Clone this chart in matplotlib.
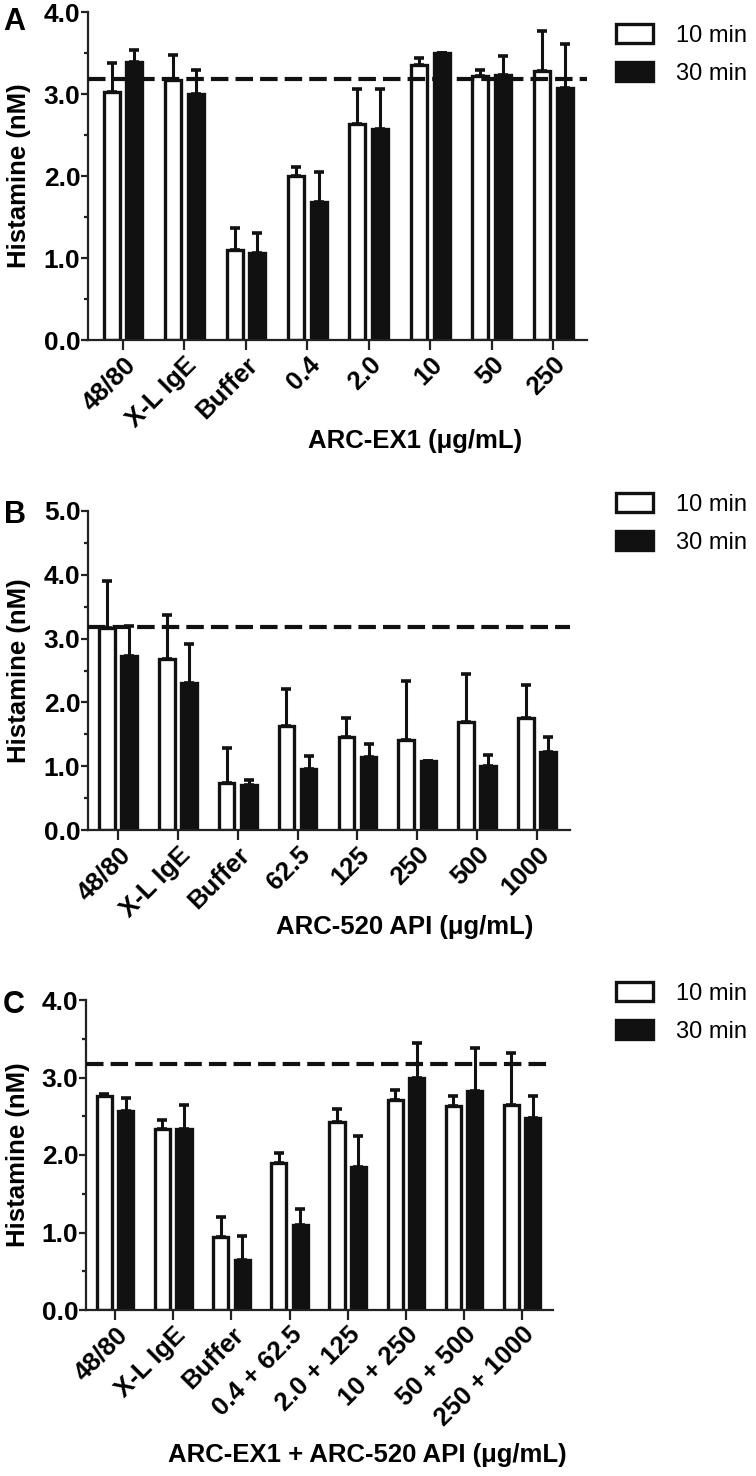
import numpy as np
import matplotlib
matplotlib.use("Agg")
import matplotlib.pyplot as plt
from matplotlib.ticker import MultipleLocator, FormatStrFormatter
from matplotlib.patches import Patch

plt.rcParams['font.family'] = ['Liberation Sans', 'DejaVu Sans']

# ------------------------------------------------------------------
# data (histamine, nM) -- mean and upper SEM, 10 min / 30 min
# ------------------------------------------------------------------
labels_a = ['48/80', 'X-L IgE', 'Buffer', '0.4', '2.0', '10', '50', '250']
a_10 = [3.03, 3.17, 1.10, 2.00, 2.64, 3.35, 3.22, 3.28]
a_10_err = [0.35, 0.31, 0.27, 0.11, 0.42, 0.09, 0.07, 0.49]
a_30 = [3.39, 3.00, 1.06, 1.68, 2.57, 3.50, 3.23, 3.07]
a_30_err = [0.15, 0.29, 0.25, 0.37, 0.49, 0.0, 0.23, 0.54]

labels_b = ['48/80', 'X-L IgE', 'Buffer', '62.5', '125', '250', '500', '1000']
b_10 = [3.16, 2.68, 0.74, 1.63, 1.45, 1.41, 1.70, 1.75]
b_10_err = [0.74, 0.69, 0.54, 0.58, 0.31, 0.92, 0.74, 0.52]
b_30 = [2.73, 2.30, 0.70, 0.96, 1.14, 1.08, 1.01, 1.23]
b_30_err = [0.47, 0.61, 0.08, 0.20, 0.21, 0.0, 0.17, 0.22]

labels_c = ['48/80', 'X-L IgE', 'Buffer', '0.4 + 62.5', '2.0 + 125',
            '10 + 250', '50 + 500', '250 + 1000']
c_10 = [2.76, 2.34, 0.94, 1.90, 2.42, 2.71, 2.63, 2.64]
c_10_err = [0.03, 0.11, 0.26, 0.12, 0.18, 0.13, 0.13, 0.68]
c_30 = [2.57, 2.33, 0.64, 1.10, 1.84, 3.00, 2.82, 2.48]
c_30_err = [0.16, 0.32, 0.32, 0.20, 0.41, 0.45, 0.56, 0.28]

reference_level = 3.18

# ------------------------------------------------------------------
# figure
# ------------------------------------------------------------------
W, H = 756, 1476
fig = plt.figure(figsize=(W / 100, H / 100), dpi=100)


def px_axes(left, top, right, bottom):
    return fig.add_axes([left / W, 1 - bottom / H, (right - left) / W, (bottom - top) / H])


def panel(ax, labels, m10, e10, m30, e30, ymax, xlim, letter, letter_xy,
          xlabel, xlab_xy, ylab_x, leg_xy):
    x = np.arange(len(labels))
    w = 0.26
    off = 0.185
    ax.bar(x - off, m10, w, color='white', edgecolor='#111111', linewidth=2.4, zorder=2)
    ax.bar(x + off, m30, w, color='#111111', edgecolor='#111111', linewidth=2.4, zorder=2)
    ax.errorbar(x - off, m10, yerr=[np.zeros(len(x)), e10], fmt='none', ecolor='#111111',
                elinewidth=2.2, capsize=3.5, capthick=2.6, zorder=1)
    ax.errorbar(x + off, m30, yerr=[np.zeros(len(x)), e30], fmt='none', ecolor='#111111',
                elinewidth=2.2, capsize=3.5, capthick=2.6, zorder=1)
    ax.axhline(reference_level, color='#111111', lw=3, ls=(0, (4.2, 1.7)), zorder=3)

    ax.set_xlim(*xlim)
    ax.set_ylim(0, ymax)
    ax.yaxis.set_major_locator(MultipleLocator(1.0))
    ax.yaxis.set_minor_locator(MultipleLocator(0.5))
    ax.yaxis.set_major_formatter(FormatStrFormatter('%.1f'))
    for s in ['top', 'right']:
        ax.spines[s].set_visible(False)
    for s in ['left', 'bottom']:
        ax.spines[s].set_linewidth(1.6)
        ax.spines[s].set_color('#222222')
    ax.tick_params(axis='y', which='major', length=5, width=1.6, pad=0.5,
                   labelsize=19, color='#222222')
    ax.tick_params(axis='y', which='minor', length=3, width=1.6, color='#222222')
    ax.tick_params(axis='x', length=7, width=1.6, pad=2, labelsize=18.5, color='#222222')
    for t in ax.get_yticklabels():
        t.set_fontweight('bold')
    ax.set_xticks(x)
    ax.set_xticklabels(labels, rotation=45, ha='right', rotation_mode='anchor',
                       fontweight='bold')

    ax.set_ylabel('Histamine (nM)', fontsize=18.5, fontweight='bold')
    ax.yaxis.set_label_coords(ylab_x, 0.5)
    ax.set_xlabel(xlabel, fontsize=18.5, fontweight='bold')
    ax.xaxis.set_label_coords(*xlab_xy)

    fig.text(letter_xy[0] / W, 1 - letter_xy[1] / H, letter, fontsize=22,
             fontweight='bold', ha='left', va='center')

    handles = [Patch(facecolor='white', edgecolor='#111111', linewidth=2.4),
               Patch(facecolor='#111111', edgecolor='#111111', linewidth=2.4)]
    fig.legend(handles, ['10 min', '30 min'], loc='upper left',
               bbox_to_anchor=(leg_xy[0] / W, 1 - leg_xy[1] / H),
               frameon=False, fontsize=17, handlelength=1.55, handleheight=0.85,
               handletextpad=1.0, labelspacing=0.65, borderpad=0, borderaxespad=0)


ax_a = px_axes(88, 12, 587, 340)
panel(ax_a, labels_a, a_10, a_10_err, a_30, a_30_err, 4.0, (-0.57, 7.55),
      'A', (3, 22), 'ARC-EX1 (\u03bcg/mL)', (0.655, -0.27), -0.115, (616, 24))

ax_b = px_axes(88, 511, 570, 830)
panel(ax_b, labels_b, b_10, b_10_err, b_30, b_30_err, 5.0, (-0.5, 7.55),
      'B', (4, 515), 'ARC-520 API (\u03bcg/mL)', (0.656, -0.265), -0.119, (616, 493))

ax_c = px_axes(86, 1000, 553, 1310)
panel(ax_c, labels_c, c_10, c_10_err, c_30, c_30_err, 4.0, (-0.5, 7.53),
      'C', (3, 1005), 'ARC-EX1 + ARC-520 API (\u03bcg/mL)', (0.602, -0.43), -0.12,
      (616, 982))

fig.savefig('out.png', dpi=100)
